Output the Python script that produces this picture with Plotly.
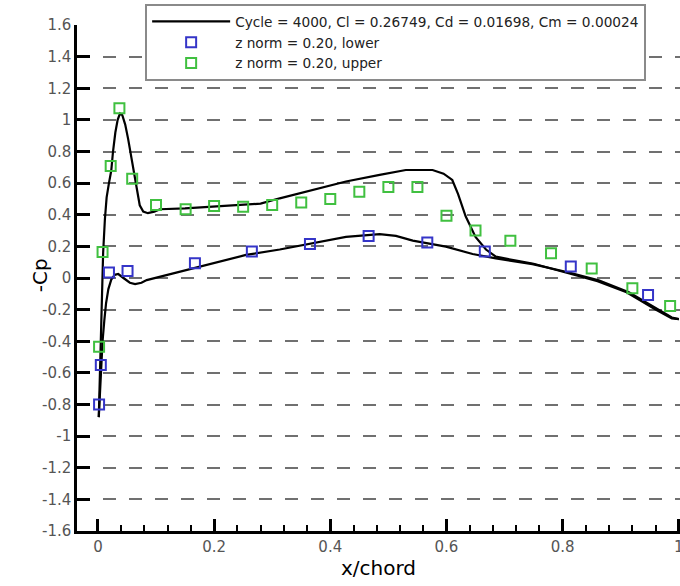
import plotly.graph_objects as go

# Solid line: upper surface (-Cp)
upper_x = [0.0015, 0.003, 0.006, 0.009, 0.012, 0.015, 0.019, 0.023, 0.026, 0.030, 0.034, 0.038,
           0.042, 0.047, 0.052, 0.056, 0.060, 0.064, 0.068, 0.072, 0.078, 0.086, 0.097, 0.107,
           0.15, 0.20, 0.23, 0.28, 0.313, 0.37, 0.427, 0.485, 0.53, 0.576, 0.595, 0.61, 0.62,
           0.633, 0.65, 0.668, 0.685, 0.72, 0.75, 0.81, 0.86, 0.91, 0.96, 0.988, 1.0]
upper_cp = [-0.88, -0.65, -0.22, 0.16, 0.37, 0.51, 0.60, 0.68, 0.80, 0.92, 1.00, 1.04,
            1.03, 0.97, 0.88, 0.80, 0.72, 0.64, 0.55, 0.46, 0.42, 0.41, 0.42, 0.435,
            0.44, 0.45, 0.456, 0.47, 0.504, 0.557, 0.61, 0.652, 0.683, 0.683, 0.66, 0.62, 0.53,
            0.39, 0.26, 0.18, 0.135, 0.11, 0.09, 0.03, -0.02, -0.09, -0.20, -0.255, -0.26]

# Solid line: lower surface (-Cp)
lower_x = [0.0015, 0.005, 0.008, 0.011, 0.014, 0.018, 0.023, 0.029, 0.035, 0.044, 0.055, 0.064,
           0.075, 0.084, 0.141, 0.198, 0.255, 0.313, 0.37, 0.427, 0.485, 0.513, 0.542, 0.599,
           0.645, 0.685, 0.748, 0.811, 0.862, 0.914, 0.96, 0.988, 1.0]
lower_cp = [-0.88, -0.60, -0.40, -0.27, -0.16, -0.07, -0.01, 0.02, 0.025, 0.0, -0.03, -0.038,
            -0.03, -0.013, 0.04, 0.093, 0.146, 0.18, 0.22, 0.26, 0.278, 0.266, 0.236, 0.198,
            0.152, 0.124, 0.088, 0.035, -0.015, -0.09, -0.19, -0.25, -0.26]

# Markers: z norm = 0.20, lower
zl_x = [0.002, 0.005, 0.019, 0.051, 0.167, 0.265, 0.365, 0.466, 0.567, 0.666, 0.814, 0.947]
zl_cp = [-0.80, -0.55, 0.034, 0.044, 0.093, 0.167, 0.215, 0.266, 0.224, 0.167, 0.072, -0.108]

# Markers: z norm = 0.20, upper
zu_x = [0.002, 0.008, 0.022, 0.037, 0.059, 0.10, 0.151, 0.20, 0.25, 0.30, 0.35, 0.40, 0.45,
        0.50, 0.55, 0.60, 0.65, 0.71, 0.78, 0.85, 0.92, 0.985]
zu_cp = [-0.435, 0.165, 0.709, 1.074, 0.627, 0.462, 0.435, 0.456, 0.451, 0.462, 0.477, 0.50,
         0.546, 0.576, 0.576, 0.394, 0.30, 0.236, 0.156, 0.06, -0.065, -0.177]

y_ticks = [-1.6, -1.4, -1.2, -1, -0.8, -0.6, -0.4, -0.2, 0, 0.2, 0.4, 0.6, 0.8, 1, 1.2, 1.4, 1.6]
y_labels = ["-1.6", "-1.4", "-1.2", "-1", "-0.8", "-0.6", "-0.4", "-0.2", "0",
            "0.2", "0.4", "0.6", "0.8", "1", "1.2", "1.4", "1.6"]
x_ticks = [0, 0.2, 0.4, 0.6, 0.8, 1]
x_labels = ["0", "0.2", "0.4", "0.6", "0.8", "1"]

line_name = "Cycle = 4000, Cl = 0.26749, Cd = 0.01698, Cm = 0.00024"
FONT = "DejaVu Sans"

fig = go.Figure()
fig.add_trace(go.Scatter(x=upper_x, y=upper_cp, mode="lines", name=line_name,
                         line=dict(color="black", width=2.2), legendrank=1))
fig.add_trace(go.Scatter(x=lower_x, y=lower_cp, mode="lines", name=line_name,
                         line=dict(color="black", width=2.2), showlegend=False))
fig.add_trace(go.Scatter(x=zl_x, y=zl_cp, mode="markers", name="z norm = 0.20, lower",
                         marker=dict(symbol="square-open", size=10, color="#3535c8",
                                     line=dict(width=2, color="#3535c8")), legendrank=2))
fig.add_trace(go.Scatter(x=zu_x, y=zu_cp, mode="markers", name="z norm = 0.20, upper",
                         marker=dict(symbol="square-open", size=10, color="#40c040",
                                     line=dict(width=2, color="#40c040")), legendrank=3))

fig.update_layout(
    width=680, height=586,
    margin=dict(l=77, r=0, t=25, b=55, autoexpand=False),
    paper_bgcolor="white", plot_bgcolor="white",
    font=dict(family=FONT, color="#555"),
    showlegend=True,
    legend=dict(x=0.113, y=1.0415, xanchor="left", yanchor="top",
                bgcolor="white", bordercolor="#8a8a8a", borderwidth=2,
                font=dict(family=FONT, size=13.7, color="#222"),
                itemwidth=78, tracegroupgap=0),
    annotations=[dict(text="-Cp", xref="paper", yref="paper",
                      x=-0.061, y=0.506, xanchor="center", yanchor="middle",
                      textangle=-90, showarrow=False,
                      font=dict(family=FONT, size=20, color="black"))],
)
fig.update_xaxes(
    range=[-0.036, 1.002], tickvals=x_ticks, ticktext=x_labels,
    showline=True, linecolor="black", linewidth=2.5,
    ticks="inside", ticklen=12, tickwidth=2.5, tickcolor="black",
    minor=dict(dtick=0.04, tick0=0, ticks="inside", ticklen=6, tickwidth=1.5, tickcolor="black", showgrid=False),
    showgrid=False, zeroline=False,
    tickfont=dict(family=FONT, size=15, color="#555"),
    ticklabeloverflow="allow",
    title=dict(text="x/chord", font=dict(family=FONT, size=20, color="black"), standoff=2),
    automargin=False,
)
fig.update_yaxes(
    range=[-1.6, 1.6], tickvals=y_ticks, ticktext=y_labels,
    showline=True, linecolor="black", linewidth=2.5,
    ticks="inside", ticklen=13, tickwidth=2.5, tickcolor="black",
    showgrid=True, gridcolor="#707070", gridwidth=2, griddash="13px,13px",
    zeroline=False,
    tickfont=dict(family=FONT, size=15, color="#555"),
    automargin=False,
)

fig.write_html("out.html")
